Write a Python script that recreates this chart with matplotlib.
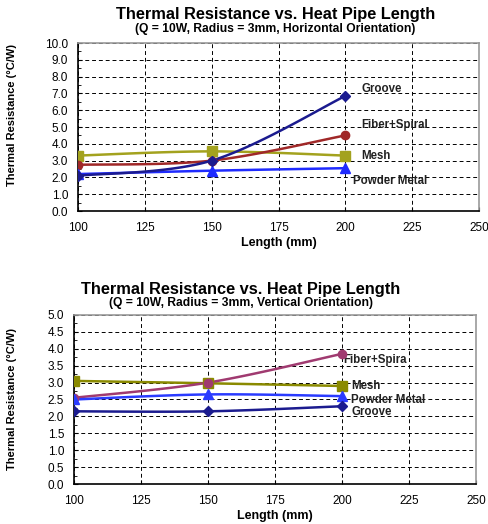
import numpy as np
import matplotlib
matplotlib.use("Agg")
import matplotlib.pyplot as plt
from matplotlib.ticker import MultipleLocator

plt.rcParams['font.family'] = ['Liberation Sans', 'DejaVu Sans']

# --- données ---
lengths = [100, 150, 200]

horiz_groove = [2.1, 3.0, 6.85]
horiz_fiber = [2.75, 3.0, 4.5]
horiz_mesh = [3.3, 3.55, 3.3]
horiz_powder = [2.2, 2.4, 2.55]

vert_fiber = [2.55, 3.0, 3.85]
vert_mesh = [3.05, 2.98, 2.9]
vert_powder = [2.5, 2.65, 2.6]
vert_groove = [2.15, 2.15, 2.3]

x_ticks = [100, 125, 150, 175, 200, 225, 250]


def smooth(xs, ys, n=40):
    # lissage type Excel (bezier, tangentes catmull-rom /6)
    p = np.column_stack([xs, ys]).astype(float)
    ext = np.vstack([p[0], p, p[-1]])
    out = []
    t = np.linspace(0, 1, n)[:, None]
    for i in range(len(p) - 1):
        p0, p3 = ext[i + 1], ext[i + 2]
        c1 = p0 + (ext[i + 2] - ext[i]) / 6
        c2 = p3 - (ext[i + 3] - ext[i + 1]) / 6
        seg = ((1 - t) ** 3) * p0 + 3 * ((1 - t) ** 2) * t * c1 + 3 * (1 - t) * t ** 2 * c2 + t ** 3 * p3
        out.append(seg)
    c = np.vstack(out)
    return c[:, 0], c[:, 1]


def draw_series(ax, ys, color, marker, ms):
    sx, sy = smooth(lengths, ys)
    ax.plot(sx, sy, color=color, lw=1.8, zorder=3)
    ax.plot(lengths, ys, linestyle='none', marker=marker, color=color,
            markersize=ms, zorder=4)


def style_axes(ax, ymax, ystep, ylab_x, ylab_y):
    ax.set_xlim(100, 250)
    ax.set_ylim(0, ymax)
    ax.set_xticks(x_ticks)
    ax.yaxis.set_major_locator(MultipleLocator(ystep))
    ax.yaxis.set_minor_locator(MultipleLocator(ystep / 2))
    ax.yaxis.set_major_formatter(plt.FuncFormatter(lambda v, _: f"{v:.1f}"))
    ax.grid(True, which='major', color='black', linestyle=(0, (4, 3)), lw=0.7)
    ax.tick_params(axis='both', which='major', labelsize=8.5, length=3, direction='in')
    ax.tick_params(axis='y', which='minor', length=2, direction='in')
    ax.tick_params(axis='x', pad=8)
    ax.tick_params(axis='y', pad=7)
    for s in ['top', 'right']:
        ax.spines[s].set_color('#999999')
        ax.spines[s].set_linewidth(1.2)
    for s in ['left', 'bottom']:
        ax.spines[s].set_color('black')
        ax.spines[s].set_linewidth(1.2)
    ax.set_xlabel("Length (mm)", fontsize=9, fontweight='bold', labelpad=2)
    ax.set_ylabel("Thermal Resistance (°C/W)", fontsize=8, fontweight='bold')
    ax.yaxis.set_label_coords(ylab_x, ylab_y)


fig = plt.figure(figsize=(4.89, 5.24), dpi=100)

# Panneau 1 : horizontal
ax1 = fig.add_axes([0.1595, 0.5973, 0.8201, 0.3206])
style_axes(ax1, 10, 1.0, -0.152, 0.571)
draw_series(ax1, horiz_mesh, '#A3A21E', 's', 7)
draw_series(ax1, horiz_fiber, '#A02828', 'o', 6)
draw_series(ax1, horiz_powder, '#1F2BFF', '^', 7)
draw_series(ax1, horiz_groove, '#1B1B8F', 'D', 5)
lbl = dict(fontsize=8.3, fontweight='bold', color='#222222', va='center')
ax1.text(206, 7.25, "Groove", **lbl)
ax1.text(206, 5.1, "Fiber+Spiral", **lbl)
ax1.text(206, 3.25, "Mesh", **lbl)
ax1.text(203, 1.8, "Powder Metal", **lbl)
fig.text(0.563, 0.972, "Thermal Resistance vs. Heat Pipe Length", ha='center', va='center',
         fontsize=11.8, fontweight='bold')
fig.text(0.563, 0.945, "(Q = 10W, Radius = 3mm, Horizontal Orientation)", ha='center', va='center',
         fontsize=8.7, fontweight='bold')

# Panneau 2 : vertical
ax2 = fig.add_axes([0.1513, 0.0763, 0.8221, 0.3226])
style_axes(ax2, 5, 0.5, -0.142, 0.5)
draw_series(ax2, vert_mesh, '#8A8A00', 's', 7)
draw_series(ax2, vert_fiber, '#A03A70', 'o', 6)
draw_series(ax2, vert_powder, '#2A3BFF', '^', 7)
draw_series(ax2, vert_groove, '#1B1B8F', 'D', 5)
ax2.text(200.4, 3.67, "Fiber+Spira", **lbl)
ax2.text(203.5, 2.9, "Mesh", **lbl)
ax2.text(203.5, 2.49, "Powder Metal", **lbl)
ax2.text(203.5, 2.12, "Groove", **lbl)
fig.text(0.493, 0.447, "Thermal Resistance vs. Heat Pipe Length", ha='center', va='center',
         fontsize=11.8, fontweight='bold')
fig.text(0.493, 0.421, "(Q = 10W, Radius = 3mm, Vertical Orientation)", ha='center', va='center',
         fontsize=8.7, fontweight='bold')

fig.savefig("out.png", dpi=100)
